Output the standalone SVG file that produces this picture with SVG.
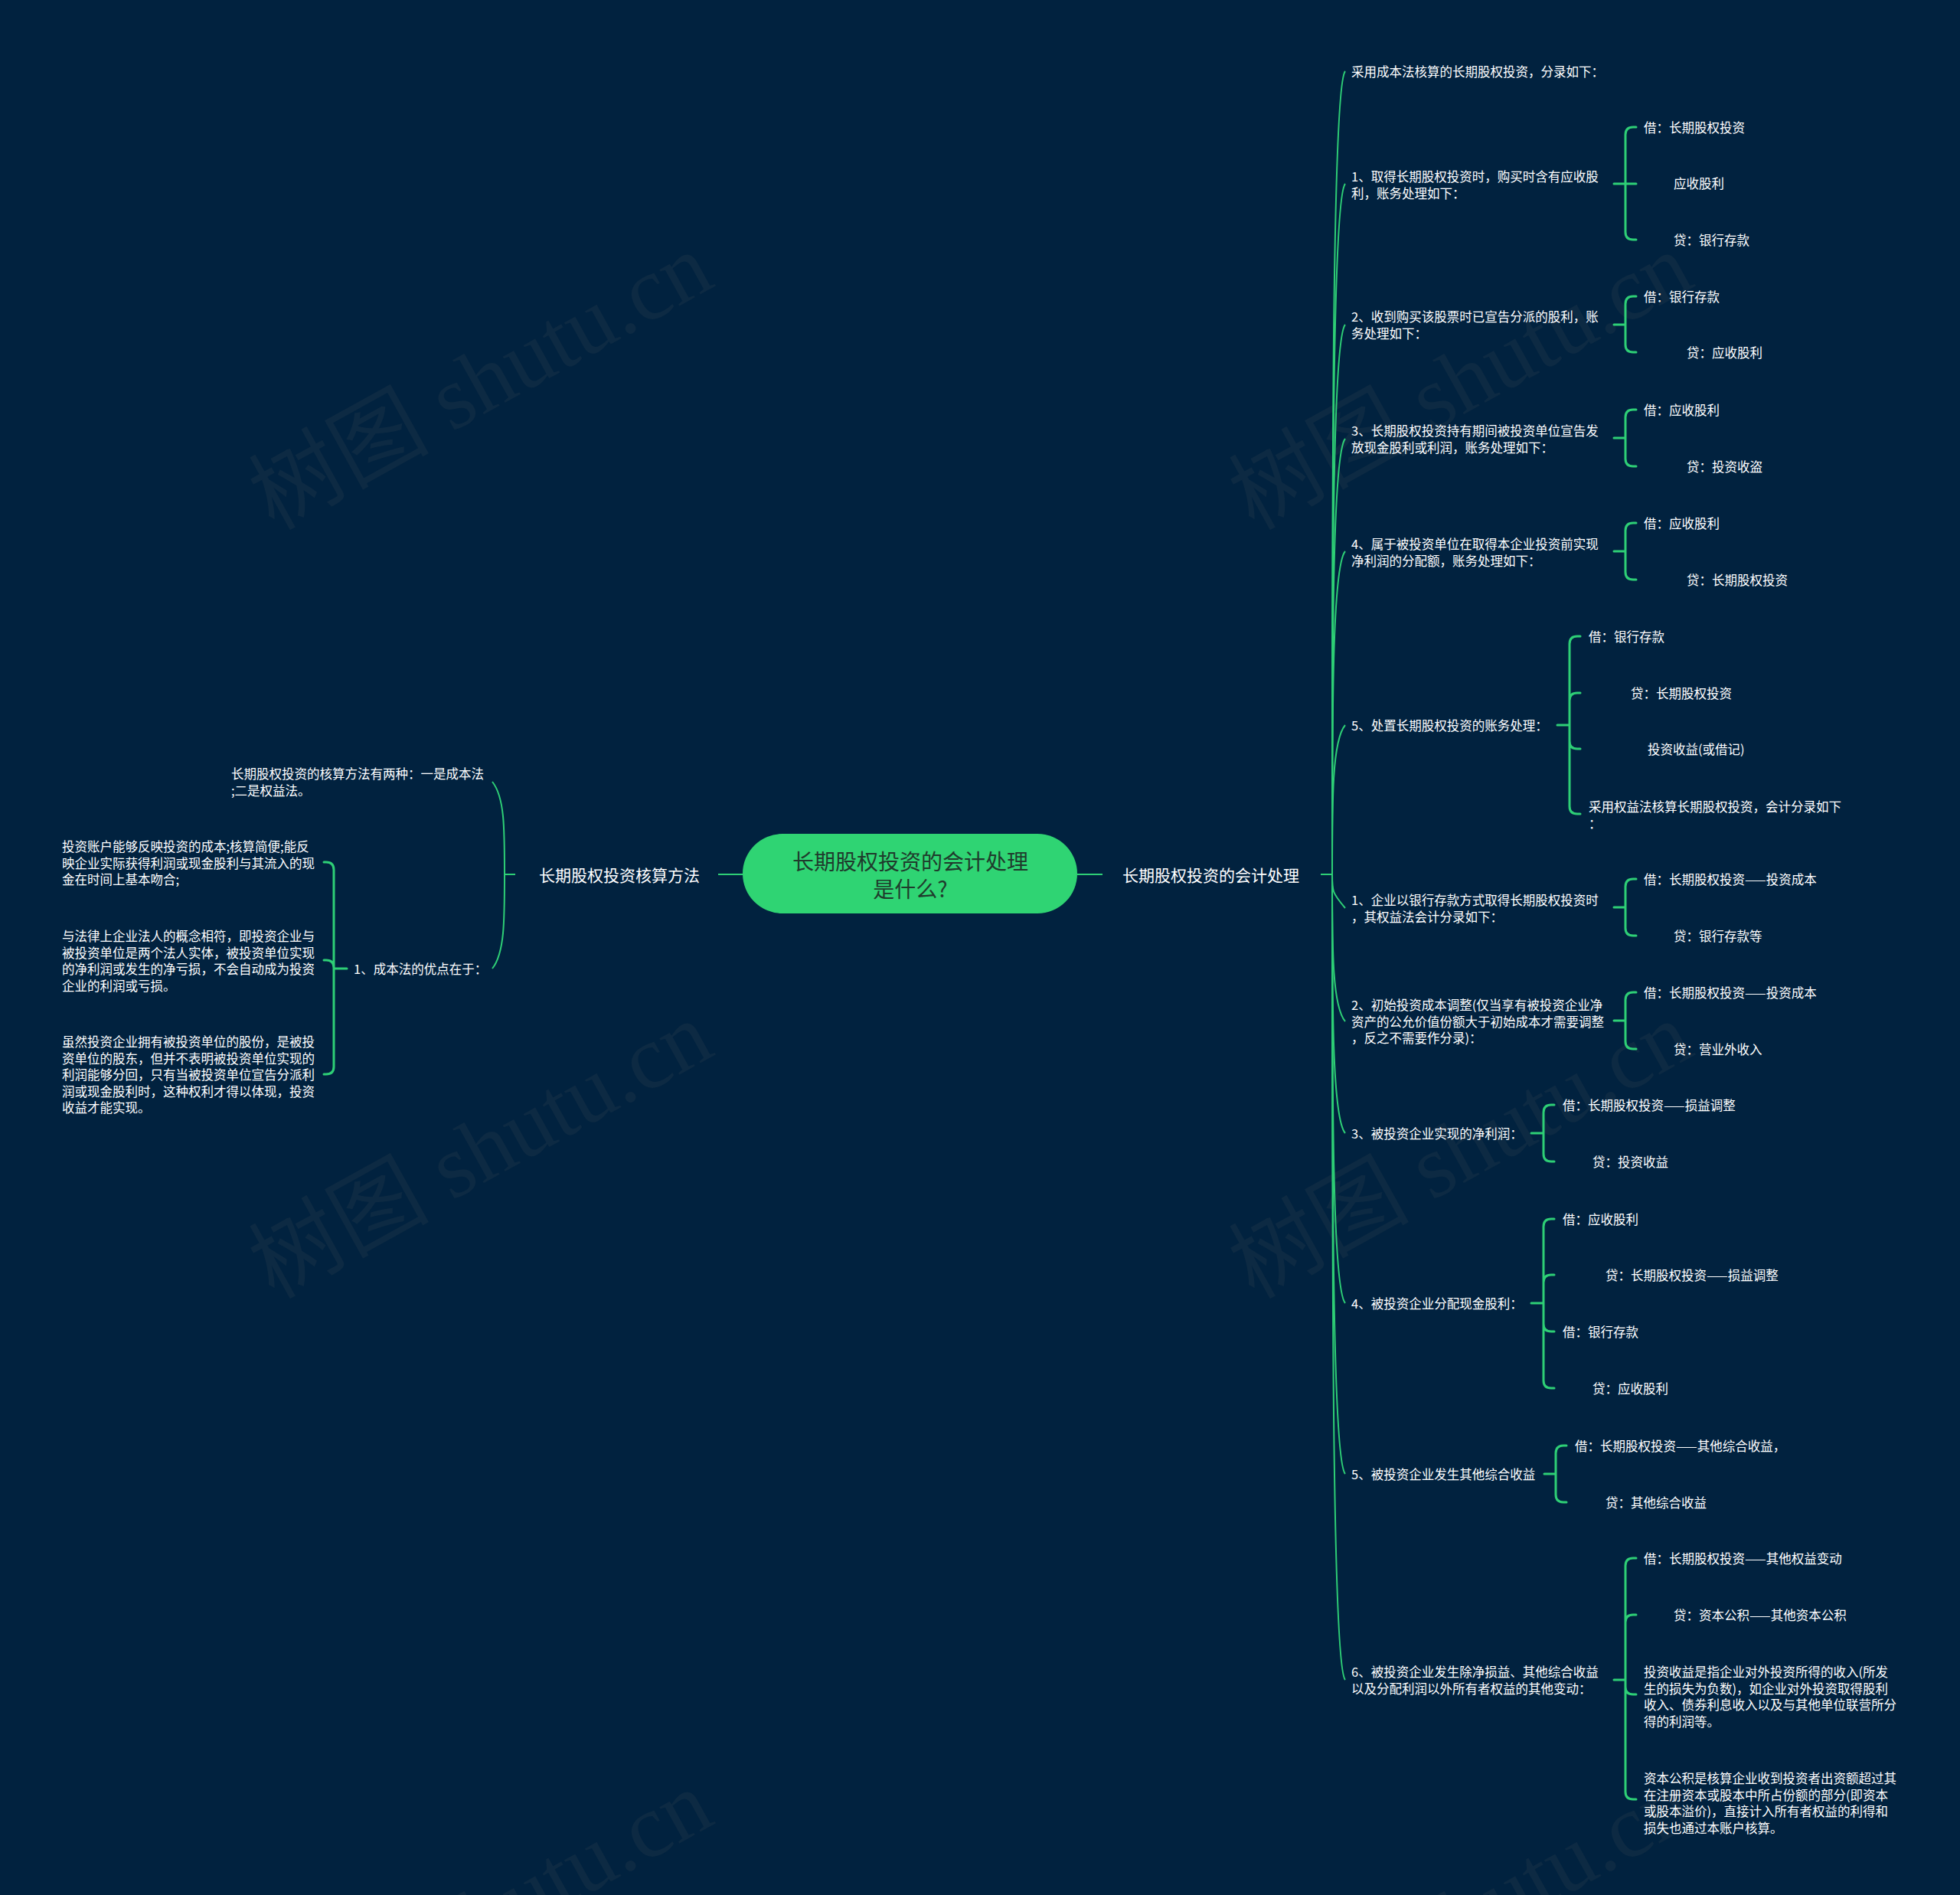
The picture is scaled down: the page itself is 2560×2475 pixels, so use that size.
<svg xmlns="http://www.w3.org/2000/svg" width="2560" height="2475" viewBox="0 0 2560 2475">
<style>
.t{font-family:"Noto Sans CJK SC","Noto Sans",sans-serif;fill:#ffffff;font-size:16.5px;dominant-baseline:central}
.m{font-size:21px}
.r{font-size:28px;fill:#1f3b2c;text-anchor:middle}
.l1{fill:none;stroke:#2ecf76;stroke-width:2}
.l2{fill:none;stroke:#2ecf76;stroke-width:3;stroke-linecap:round;stroke-linejoin:round}
.wm{font-family:"Liberation Serif","Noto Sans CJK SC",serif;font-size:118px;fill:#0d2a43;text-anchor:middle}
</style>
<rect width="2560" height="2475" fill="#01223f"/>
<g id="watermarks">
<text class="wm" x="647" y="533" transform="rotate(-29 647 533)">树图 shutu.cn</text>
<text class="wm" x="647" y="1537" transform="rotate(-29 647 1537)">树图 shutu.cn</text>
<text class="wm" x="647" y="2541" transform="rotate(-29 647 2541)">树图 shutu.cn</text>
<text class="wm" x="1927" y="533" transform="rotate(-29 1927 533)">树图 shutu.cn</text>
<text class="wm" x="1927" y="1537" transform="rotate(-29 1927 1537)">树图 shutu.cn</text>
<text class="wm" x="1927" y="2541" transform="rotate(-29 1927 2541)">树图 shutu.cn</text>
</g>
<g id="connectors">
<path class="l1" d="M1407 1142H1440M938 1142H970M1725 1142H1740M673 1142H659"/>
<path class="l1" d="M1740 1142C1740 617 1740 113 1757 93"/>
<path class="l1" d="M1740 1142C1740 691 1740 260 1757 240"/>
<path class="l1" d="M1740 1142C1740 783 1740 444 1757 424"/>
<path class="l1" d="M1740 1142C1740 857 1740 593 1757 573"/>
<path class="l1" d="M1740 1142C1740 931 1740 740 1757 720"/>
<path class="l1" d="M1740 1142C1740 1044 1740 967 1757 947"/>
<path class="l1" d="M1740 1142C1740 1164 1740 1166 1757 1186"/>
<path class="l1" d="M1740 1142C1740 1238 1740 1314 1757 1334"/>
<path class="l1" d="M1740 1142C1740 1311 1740 1460 1757 1480"/>
<path class="l1" d="M1740 1142C1740 1422 1740 1682 1757 1702"/>
<path class="l1" d="M1740 1142C1740 1533 1740 1905 1757 1925"/>
<path class="l1" d="M1740 1142C1740 1668 1740 2174 1757 2194"/>
<path class="l1" d="M659 1142C659 1081 659 1041 643 1021"/>
<path class="l1" d="M659 1142C659 1203 659 1245 643 1265"/>
<path class="l2" d="M2108 240H2123M2123 240V176Q2123 166 2133 166H2137M2123 240H2137M2123 240V303Q2123 313 2133 313H2137"/>
<path class="l2" d="M2108 424H2123M2123 424V397Q2123 387 2133 387H2137M2123 424V450Q2123 460 2133 460H2137"/>
<path class="l2" d="M2108 572H2123M2123 572V545Q2123 535 2133 535H2137M2123 572V599Q2123 609 2133 609H2137"/>
<path class="l2" d="M2108 720H2123M2123 720V693Q2123 683 2133 683H2137M2123 720V747Q2123 757 2133 757H2137"/>
<path class="l2" d="M2034 947H2050M2050 947V841Q2050 831 2060 831H2064M2050 947V915Q2050 905 2060 905H2064M2050 947V968Q2050 978 2060 978H2064M2050 947V1053Q2050 1063 2060 1063H2064"/>
<path class="l2" d="M2108 1185H2123M2123 1185V1158Q2123 1148 2133 1148H2137M2123 1185V1212Q2123 1222 2133 1222H2137"/>
<path class="l2" d="M2108 1333H2123M2123 1333V1306Q2123 1296 2133 1296H2137M2123 1333V1360Q2123 1370 2133 1370H2137"/>
<path class="l2" d="M2000 1480H2016M2016 1480V1453Q2016 1443 2026 1443H2030M2016 1480V1507Q2016 1517 2026 1517H2030"/>
<path class="l2" d="M2000 1702H2016M2016 1702V1602Q2016 1592 2026 1592H2030M2016 1702V1675Q2016 1665 2026 1665H2030M2016 1702V1729Q2016 1739 2026 1739H2030M2016 1702V1803Q2016 1813 2026 1813H2030"/>
<path class="l2" d="M2017 1925H2032M2032 1925V1898Q2032 1888 2042 1888H2046M2032 1925V1952Q2032 1962 2042 1962H2046"/>
<path class="l2" d="M2108 2194H2123M2123 2194V2045Q2123 2035 2133 2035H2137M2123 2194V2119Q2123 2109 2133 2109H2137M2123 2194V2203Q2123 2213 2133 2213H2137M2123 2194V2340Q2123 2350 2133 2350H2137"/>
<path class="l2" d="M453 1265H436M436 1265V1136Q436 1126 426 1126H423M436 1265V1264Q436 1254 426 1254H423M436 1265V1393Q436 1403 426 1403H423"/>
</g>
<g id="root">
<rect x="970" y="1089" width="437" height="104" rx="52" fill="#2fd473"/>
<text class="t r" x="1189" y="1124">长期股权投资的会计处理</text>
<text class="t r" x="1189" y="1160">是什么?</text>
</g>
<g id="branch-right"><text class="t m" x="1466" y="1142">长期股权投资的会计处理</text></g>
<g id="branch-left"><text class="t m" x="914" y="1142" text-anchor="end">长期股权投资核算方法</text></g>
<g id="left-nodes">
<text class="t" x="302" y="1010">长期股权投资的核算方法有两种：一是成本法<tspan x="302" dy="21.5">;二是权益法。</tspan></text>
<text class="t" x="462" y="1265">1、成本法的优点在于：</text>
<text class="t" x="81" y="1105">投资账户能够反映投资的成本;核算简便;能反<tspan x="81" dy="21.5">映企业实际获得利润或现金股利与其流入的现</tspan><tspan x="81" dy="21.5">金在时间上基本吻合;</tspan></text>
<text class="t" x="81" y="1222">与法律上企业法人的概念相符，即投资企业与<tspan x="81" dy="21.5">被投资单位是两个法人实体，被投资单位实现</tspan><tspan x="81" dy="21.5">的净利润或发生的净亏损，不会自动成为投资</tspan><tspan x="81" dy="21.5">企业的利润或亏损。</tspan></text>
<text class="t" x="81" y="1360">虽然投资企业拥有被投资单位的股份，是被投<tspan x="81" dy="21.5">资单位的股东，但并不表明被投资单位实现的</tspan><tspan x="81" dy="21.5">利润能够分回，只有当被投资单位宣告分派利</tspan><tspan x="81" dy="21.5">润或现金股利时，这种权利才得以体现，投资</tspan><tspan x="81" dy="21.5">收益才能实现。</tspan></text>
</g>
<g id="right-level1">
<text class="t" x="1765" y="93">采用成本法核算的长期股权投资，分录如下：</text>
<text class="t" x="1765" y="230">1、取得长期股权投资时，购买时含有应收股<tspan x="1765" dy="21.5">利，账务处理如下：</tspan></text>
<text class="t" x="1765" y="413">2、收到购买该股票时已宣告分派的股利，账<tspan x="1765" dy="21.5">务处理如下：</tspan></text>
<text class="t" x="1765" y="562">3、长期股权投资持有期间被投资单位宣告发<tspan x="1765" dy="21.5">放现金股利或利润，账务处理如下：</tspan></text>
<text class="t" x="1765" y="710">4、属于被投资单位在取得本企业投资前实现<tspan x="1765" dy="21.5">净利润的分配额，账务处理如下：</tspan></text>
<text class="t" x="1765" y="947">5、处置长期股权投资的账务处理：</text>
<text class="t" x="1765" y="1175">1、企业以银行存款方式取得长期股权投资时<tspan x="1765" dy="21.5">，其权益法会计分录如下：</tspan></text>
<text class="t" x="1765" y="1312">2、初始投资成本调整(仅当享有被投资企业净<tspan x="1765" dy="21.5">资产的公允价值份额大于初始成本才需要调整</tspan><tspan x="1765" dy="21.5">，反之不需要作分录)：</tspan></text>
<text class="t" x="1765" y="1480">3、被投资企业实现的净利润：</text>
<text class="t" x="1765" y="1702">4、被投资企业分配现金股利：</text>
<text class="t" x="1765" y="1925">5、被投资企业发生其他综合收益</text>
<text class="t" x="1765" y="2183">6、被投资企业发生除净损益、其他综合收益<tspan x="1765" dy="21.5">以及分配利润以外所有者权益的其他变动：</tspan></text>
</g>
<g id="right-level2">
<text class="t" x="2147" y="166">借：长期股权投资</text>
<text class="t" x="2186" y="239">应收股利</text>
<text class="t" x="2186" y="313">贷：银行存款</text>
<text class="t" x="2147" y="387">借：银行存款</text>
<text class="t" x="2203" y="460">贷：应收股利</text>
<text class="t" x="2147" y="535">借：应收股利</text>
<text class="t" x="2203" y="609">贷：投资收盗</text>
<text class="t" x="2147" y="683">借：应收股利</text>
<text class="t" x="2203" y="757">贷：长期股权投资</text>
<text class="t" x="2075" y="831">借：银行存款</text>
<text class="t" x="2130" y="905">贷：长期股权投资</text>
<text class="t" x="2152" y="978">投资收益(或借记)</text>
<text class="t" x="2075" y="1053">采用权益法核算长期股权投资，会计分录如下<tspan x="2075" dy="21.5">：</tspan></text>
<text class="t" x="2147" y="1148">借：长期股权投资——投资成本</text>
<text class="t" x="2186" y="1222">贷：银行存款等</text>
<text class="t" x="2147" y="1296">借：长期股权投资——投资成本</text>
<text class="t" x="2186" y="1370">贷：营业外收入</text>
<text class="t" x="2041" y="1443">借：长期股权投资——损益调整</text>
<text class="t" x="2080" y="1517">贷：投资收益</text>
<text class="t" x="2041" y="1592">借：应收股利</text>
<text class="t" x="2097" y="1665">贷：长期股权投资——损益调整</text>
<text class="t" x="2041" y="1739">借：银行存款</text>
<text class="t" x="2080" y="1813">贷：应收股利</text>
<text class="t" x="2057" y="1888">借：长期股权投资——其他综合收益，</text>
<text class="t" x="2097" y="1962">贷：其他综合收益</text>
<text class="t" x="2147" y="2035">借：长期股权投资——其他权益变动</text>
<text class="t" x="2186" y="2109">贷：资本公积——其他资本公积</text>
<text class="t" x="2147" y="2183">投资收益是指企业对外投资所得的收入(所发<tspan x="2147" dy="21.5">生的损失为负数)，如企业对外投资取得股利</tspan><tspan x="2147" dy="21.5">收入、债券利息收入以及与其他单位联营所分</tspan><tspan x="2147" dy="21.5">得的利润等。</tspan></text>
<text class="t" x="2147" y="2322">资本公积是核算企业收到投资者出资额超过其<tspan x="2147" dy="21.5">在注册资本或股本中所占份额的部分(即资本</tspan><tspan x="2147" dy="21.5">或股本溢价)，直接计入所有者权益的利得和</tspan><tspan x="2147" dy="21.5">损失也通过本账户核算。</tspan></text>
</g>
</svg>
